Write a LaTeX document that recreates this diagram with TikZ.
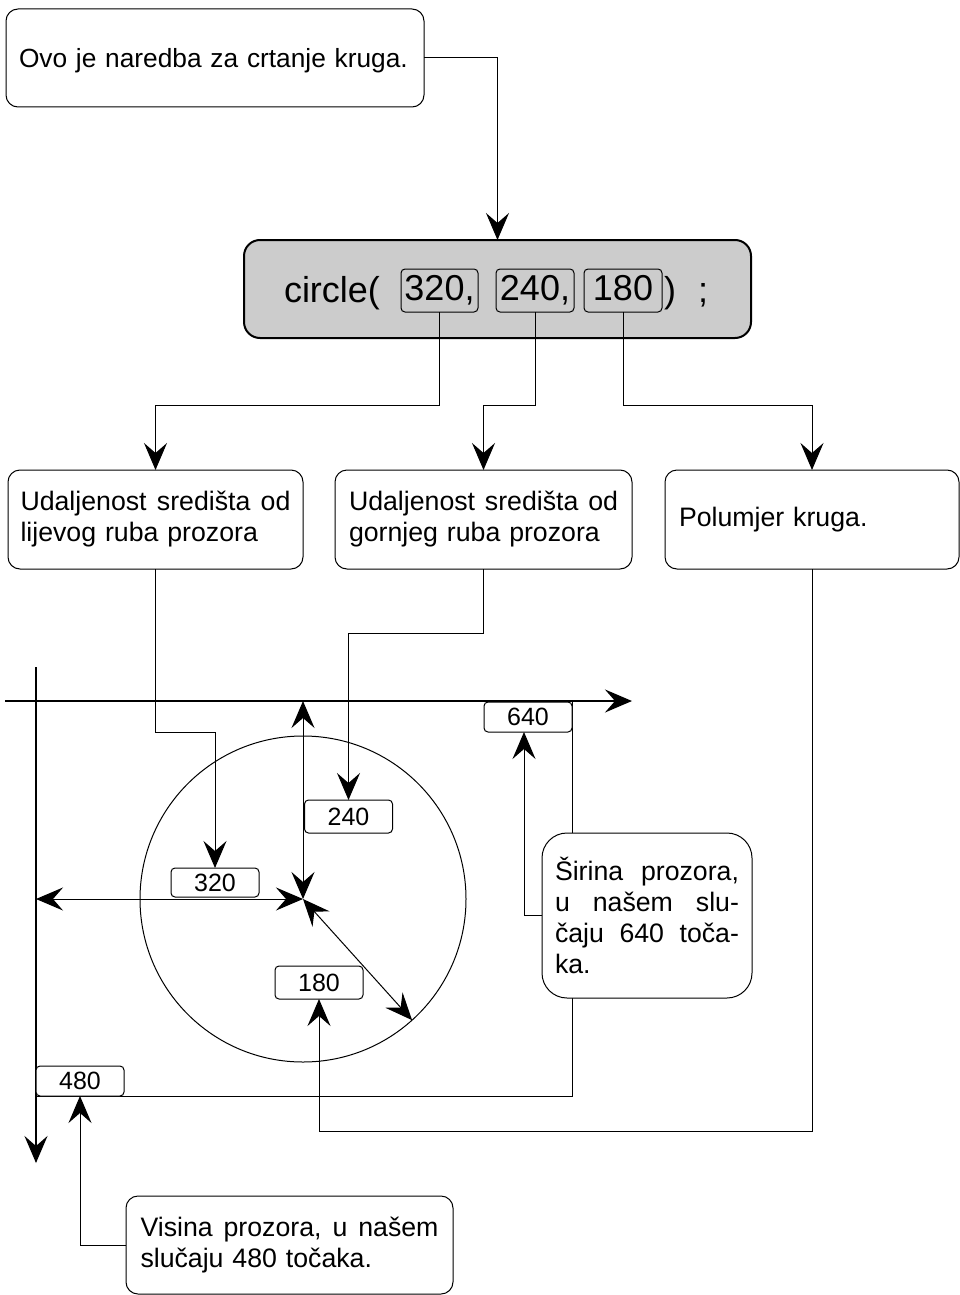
\documentclass[tikz,border=0pt]{standalone}
\usepackage{fontspec}
\setmainfont{Liberation Sans}
\usetikzlibrary{arrows.meta}
\definecolor{cmdgray}{HTML}{CCCCCC}
\begin{document}
\begin{tikzpicture}[x=1pt,y=-1pt,
  >={Stealth[length=27pt,width=23pt,inset=10pt]},
  every node/.style={outer sep=0pt, inner sep=0pt},
  note/.style={draw, fill=white, rounded corners=12pt, line width=1pt,
    font=\fontsize{26.7}{31}\selectfont, align=left},
  tag/.style={draw, fill=white, rounded corners=4pt, line width=1pt,
    minimum width=88pt, minimum height=30pt, font=\fontsize{25}{30}\selectfont},
  arg/.style={draw, rounded corners=4pt, line width=1pt, minimum height=43pt,
    minimum width=78pt, text height=26pt, text depth=6pt,
    font=\fontsize{36}{40}\selectfont},
  big/.style={anchor=base west, font=\fontsize{36}{40}\selectfont},
  link/.style={line width=1pt, ->},
  dim/.style={line width=1pt, <->},
  axis/.style={line width=2pt, ->},
  frame/.style={line width=1pt}
]
\useasboundingbox (0,0) rectangle (959,1295);

% coordinate axes of the window
\coordinate (xaxs) at (5,701);
\coordinate (xaxe) at (632,701);
\coordinate (yaxs) at (36,667);
\coordinate (yaxe) at (36,1163);
\draw[axis] (xaxs) -- (xaxe);
\draw[axis] (yaxs) -- (yaxe);

% right and bottom edges of the window
\coordinate (wtr) at (572,701);
\coordinate (wbl) at (36,1096);
\draw[frame] (wtr) |- (wbl);

% the circle and its centre
\coordinate (c) at (303,899);
\node[draw, circle, line width=1pt, minimum size=326pt] (krug) at (c) {};

% distances from the window edges and the radius
\draw[dim] (c -| yaxs) -- (c);
\draw[dim] (c |- xaxs) -- (c);
\draw[dim] (c) -- (krug.-48.4);

% the command
\node[note, minimum width=418pt, minimum height=98pt, text width=392pt,
  text depth=0pt, font=\fontsize{26.3}{31}\selectfont]
  (naredba) at (215,58) {Ovo je naredba za crtanje kruga.};
\node[draw, fill=cmdgray, line width=2pt, rounded corners=16pt,
  minimum width=507pt, minimum height=98pt] (cmd) at (497.5,289) {};
\node[big] (ime) at (284,302) {circle(};
\node[arg, minimum width=77pt] (a320) at (439.5,290.5) {320,};
\node[arg] (a240) at (535,290.5) {240,};
\node[arg] (a180) at (623,290.5) {180};
\node[big] (zagrada) at (664,302) {)};
\node[big] (tockazarez) at (698,302) {;};

% explanations of the arguments
\node[note, minimum width=295pt, minimum height=99pt, text width=270pt]
  (udA) at (155.5,519.5) {Udaljenost\hfill središta\hfill od\\ lijevog ruba prozora};
\node[note, minimum width=297pt, minimum height=99pt, text width=269pt]
  (udB) at (483.5,519.5) {Udaljenost\hfill središta\hfill od\\ gornjeg ruba prozora};
\node[note, minimum width=294pt, minimum height=99pt, text width=266pt]
  (polumjer) at (812,519.5) {Polumjer kruga.};

% value labels
\node[tag] (t640) at (528,717) {640};
\node[tag, minimum height=33pt] (t240) at (348.5,816.5) {240};
\node[tag, minimum height=29pt] (t320) at (215,882.5) {320};
\node[tag, minimum height=33pt] (t180) at (319,982.5) {180};
\node[tag] (t480) at (80,1081) {480};

% window size notes
\node[note, rounded corners=25pt, minimum width=210pt, minimum height=165pt,
  text width=184pt] (sirina) at (647,915.5)
  {Širina\hfill prozora,\\ u\hfill našem\hfill slu-\\ čaju\hfill 640\hfill toča-\\ ka.};
\node[note, minimum width=327pt, minimum height=98pt, text width=298pt]
  (visina) at (289.5,1245)
  {Visina\hfill prozora,\hfill u\hfill našem\\ slučaju 480 točaka.};

% connectors
\draw[link] (naredba.east) -| (cmd.north);
\draw[link] (a320.south) -- ++(0,93) -| (udA.north);
\draw[link] (a240.south) -- ++(0,93) -| (udB.north);
\draw[link] (a180.south) -- ++(0,93) -| (polumjer.north);
\draw[link] (udA.south) -- ++(0,163) -| (t320.north);
\draw[link] (udB.south) -- ++(0,64) -| (t240.north);
\draw[link] (polumjer.south) -- ++(0,562) -| (t180.south);
\draw[link] (sirina.west) -| ([xshift=-4pt]t640.south);
\draw[link] (visina.west) -| (t480.south);
\end{tikzpicture}
\end{document}
